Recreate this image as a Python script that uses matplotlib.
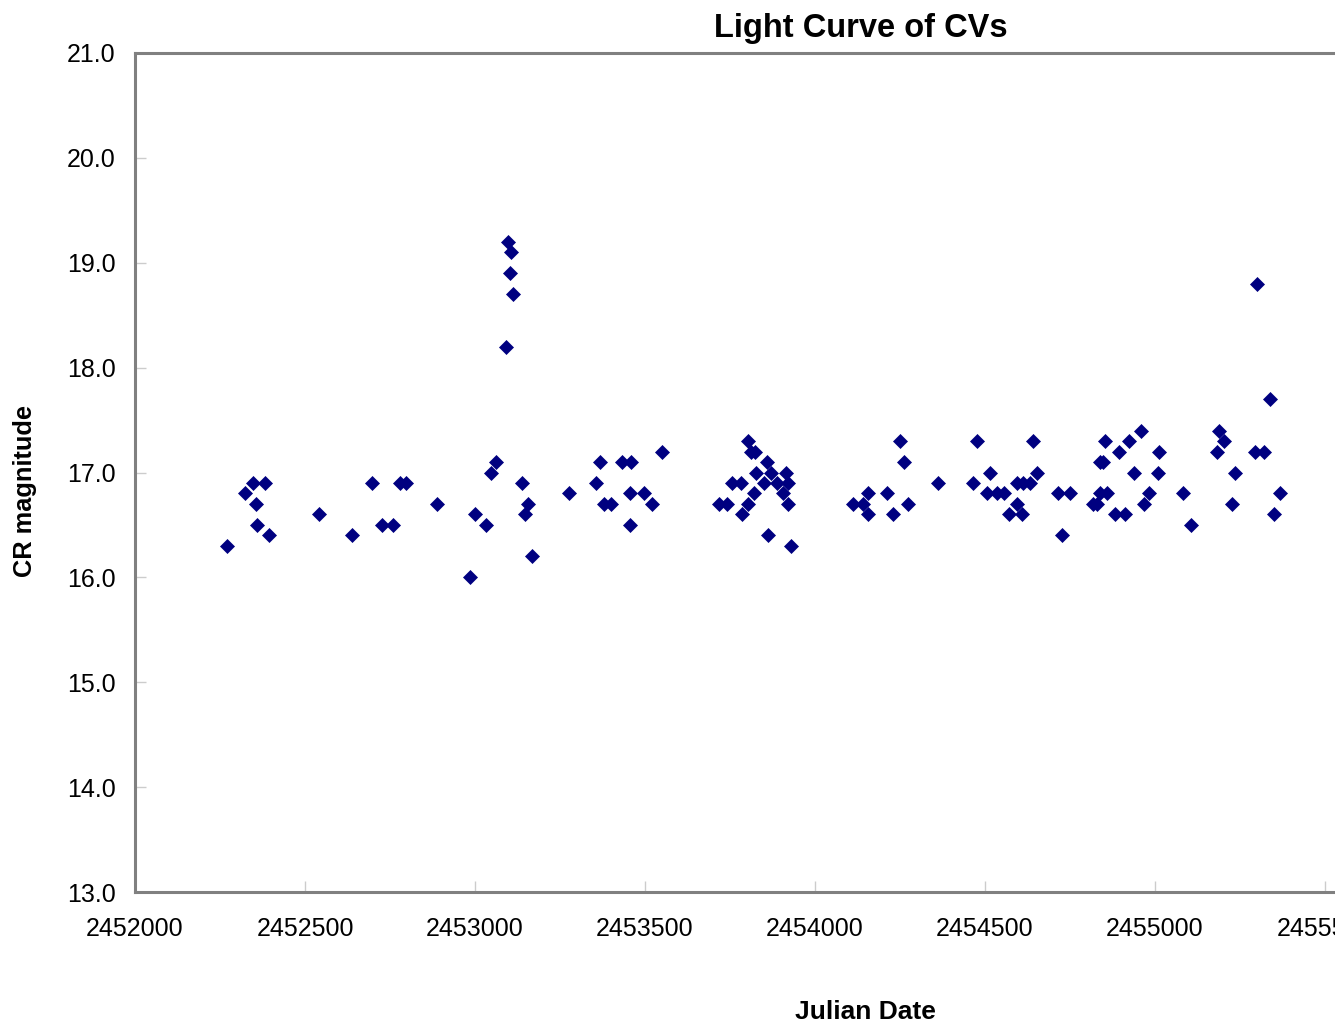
import numpy as np
import matplotlib
matplotlib.use('Agg')
import matplotlib.pyplot as plt

# Dades llegides del grafic (data juliana, magnitud CR)
jd = [2452270, 2452324, 2452346, 2452383, 2452356, 2452360, 2452395, 2452542,
      2452638, 2452697, 2452726, 2452760, 2452779, 2452797, 2452888, 2452985,
      2453001, 2453031, 2453046, 2453063, 2453090, 2453096, 2453103, 2453106,
      2453113, 2453137, 2453147, 2453155, 2453168, 2453277, 2453356, 2453369,
      2453380, 2453399, 2453431, 2453455, 2453455, 2453459, 2453496, 2453521,
      2453550,
      2453717, 2453742, 2453755, 2453782, 2453785, 2453802, 2453804, 2453812,
      2453821, 2453824, 2453825, 2453850, 2453859, 2453862, 2453871, 2453887,
      2453907, 2453915, 2453920, 2453921, 2453928,
      2454112, 2454142, 2454155, 2454157, 2454211, 2454230, 2454249, 2454262,
      2454274, 2454363,
      2454464, 2454477, 2454507, 2454514, 2454534, 2454556, 2454571, 2454593,
      2454595, 2454610, 2454612, 2454631, 2454641, 2454654, 2454714, 2454727,
      2454751, 2454819, 2454828, 2454838, 2454838, 2454848, 2454854, 2454858,
      2454883, 2454893, 2454913, 2454924, 2454937, 2454960, 2454968, 2454982,
      2455009, 2455011, 2455082, 2455105,
      2455181, 2455187, 2455202, 2455226, 2455234, 2455295, 2455300, 2455322,
      2455338, 2455351, 2455367]
mag = [16.3, 16.8, 16.9, 16.9, 16.7, 16.5, 16.4, 16.6,
       16.4, 16.9, 16.5, 16.5, 16.9, 16.9, 16.7, 16.0,
       16.6, 16.5, 17.0, 17.1, 18.2, 19.2, 18.9, 19.1,
       18.7, 16.9, 16.6, 16.7, 16.2, 16.8, 16.9, 17.1,
       16.7, 16.7, 17.1, 16.8, 16.5, 17.1, 16.8, 16.7,
       17.2,
       16.7, 16.7, 16.9, 16.9, 16.6, 17.3, 16.7, 17.2,
       16.8, 17.2, 17.0, 16.9, 17.1, 16.4, 17.0, 16.9,
       16.8, 17.0, 16.9, 16.7, 16.3,
       16.7, 16.7, 16.6, 16.8, 16.8, 16.6, 17.3, 17.1,
       16.7, 16.9,
       16.9, 17.3, 16.8, 17.0, 16.8, 16.8, 16.6, 16.9,
       16.7, 16.6, 16.9, 16.9, 17.3, 17.0, 16.8, 16.4,
       16.8, 16.7, 16.7, 17.1, 16.8, 17.1, 17.3, 16.8,
       16.6, 17.2, 16.6, 17.3, 17.0, 17.4, 16.7, 16.8,
       17.0, 17.2, 16.8, 16.5,
       17.2, 17.4, 17.3, 16.7, 17.0, 17.2, 18.8, 17.2,
       17.7, 16.6, 16.8]

xticks = [2452000, 2452500, 2453000, 2453500, 2454000, 2454500, 2455000, 2455500, 2456000]
yticks = [13.0, 14.0, 15.0, 16.0, 17.0, 18.0, 19.0, 20.0, 21.0]

plt.rcParams['font.family'] = ['Liberation Sans', 'DejaVu Sans']

W, H = 1335, 1027
fig = plt.figure(figsize=(W/100., H/100.), dpi=100)
# L'area del grafic surt per la dreta (la imatge original esta retallada)
ax = fig.add_axes((135./W, 1-892./H, 1360./W, (892.-53.)/H))

ax.plot(jd, mag, linestyle='none', marker='D', markersize=7.2,
        color='#000080', markeredgecolor='#000080', markeredgewidth=0.5)

ax.set_xlim(2452000, 2456000)
ax.set_ylim(13.0, 21.0)
ax.set_xticks(xticks)
ax.set_xticklabels(['%d' % t for t in xticks])
ax.set_yticks(yticks)
ax.set_yticklabels(['%.1f' % t for t in yticks])

for s in ['left', 'top', 'bottom', 'right']:
	ax.spines[s].set_color('#808080')
	ax.spines[s].set_linewidth(2.2)

ax.tick_params(axis='both', direction='in', length=8, width=1, color='#cccccc',
               labelsize=18, labelcolor='black')
ax.tick_params(axis='x', pad=18)
ax.tick_params(axis='y', pad=14)

# Titol i etiquetes dels eixos
fig.text(861./W, 1-28./H, 'Light Curve of CVs', fontsize=23.5, fontweight='bold',
         ha='center', va='center')
fig.text(865./W, 1-1012./H, 'Julian Date', fontsize=19, fontweight='bold',
         ha='center', va='center')
fig.text(25./W, 1-491./H, 'CR magnitude', fontsize=18.3, fontweight='bold',
         ha='center', va='center', rotation=90)

plt.savefig('out.png', dpi=100)
plt.close()
